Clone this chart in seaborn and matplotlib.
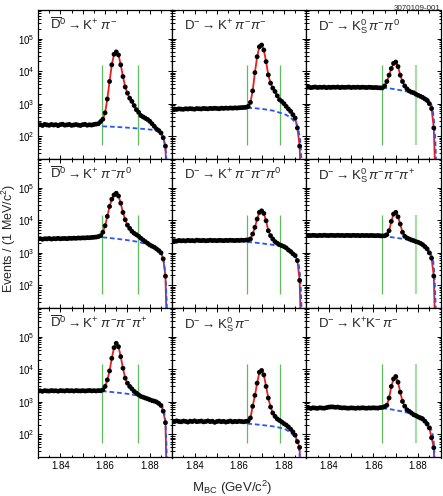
import numpy as np
import pandas as pd
import matplotlib
matplotlib.use("Agg")
import matplotlib.pyplot as plt
import seaborn as sns
from matplotlib.ticker import FixedLocator, LogLocator, FuncFormatter, NullFormatter, MultipleLocator, LogFormatterSciNotation

# ---------------- data ----------------
# bin centres, 1 MeV bins, GeV/c^2
mbc_bins = np.round(np.arange(1.830, 1.8875, 0.001), 3)

titles = [
    r"$\overline{\mathrm{D}}^0 \rightarrow \mathrm{K}^{+}\;\pi^{-}$",
    r"$\mathrm{D}^{-} \rightarrow \mathrm{K}^{+}\;\pi^{-}\pi^{-}$",
    r"$\mathrm{D}^{-} \rightarrow \mathrm{K}^0_{\mathrm{S}}\,\pi^{-}\pi^{0}$",
    r"$\overline{\mathrm{D}}^0 \rightarrow \mathrm{K}^{+}\;\pi^{-}\pi^{0}$",
    r"$\mathrm{D}^{-} \rightarrow \mathrm{K}^{+}\;\pi^{-}\pi^{-}\pi^{0}$",
    r"$\mathrm{D}^{-} \rightarrow \mathrm{K}^0_{\mathrm{S}}\,\pi^{-}\pi^{-}\pi^{+}$",
    r"$\overline{\mathrm{D}}^0 \rightarrow \mathrm{K}^{+}\;\pi^{-}\pi^{-}\pi^{+}$",
    r"$\mathrm{D}^{-} \rightarrow \mathrm{K}^0_{\mathrm{S}}\,\pi^{-}$",
    r"$\mathrm{D}^{-} \rightarrow \mathrm{K}^{+}\mathrm{K}^{-}\,\pi^{-}$",
]

counts_d0_kpi = [218, 225, 212, 230, 221, 215, 228, 219, 224, 210, 226, 232, 217, 222, 229, 214, 220, 227, 218, 212,
                 225, 230, 216, 223, 219, 228, 234,
                 240, 280, 330, 520, 1380, 4800, 15600, 33000, 39000, 31500, 15600, 6800, 3240, 2100, 1470, 1170,
                 870, 650, 540, 430, 390, 355, 325, 285, 240, 200, 166, 148, 125, 89, 49]
counts_dm_kpipi = [670, 685, 662, 690, 676, 668, 695, 681, 700, 688, 672, 705, 693, 684, 710, 698, 690, 715, 702, 720,
                   708, 695, 725, 712, 730, 718, 735, 722, 740, 730, 745, 752, 760,
                   770, 820, 1090, 2460, 9000, 27700, 56000, 63500, 44500, 19600, 7640, 4270, 3000, 2360, 1740,
                   1320, 1170, 1000, 820, 680, 575, 455, 360, 178, 49]
counts_dm_kspipi0 = [3150, 3220, 3100, 3180, 3250, 3120, 3200, 3160, 3230, 3090, 3190, 3140, 3210, 3170, 3240, 3110,
                     3200, 3150, 3180, 3230, 3120, 3190, 3160, 3210, 3140, 3200, 3170, 3120, 3190, 3150, 3100, 3140,
                     3080, 3050,
                     3050, 3500, 4800, 7500, 12000, 17300, 19000, 13800, 7500, 4800, 3500, 2850, 2450, 2250, 2150,
                     1950, 1800, 1680, 1550, 1400, 1250, 1000, 700, 178]
counts_d0_kpipi0 = [2650, 2720, 2600, 2700, 2680, 2750, 2640, 2720, 2700, 2780, 2690, 2740, 2760, 2710, 2800, 2770,
                    2820, 2790, 2850, 2830, 2880, 2860, 2920, 2900, 2960, 3000, 3050, 3150,
                    3350, 4270, 6800, 13200, 26600, 44500, 60200, 67900, 56000, 33600, 17400, 10400, 7100, 5640,
                    4580, 3970, 3600, 3220, 2800, 2470, 2200, 1960, 1740, 1600, 1480, 1320, 1170, 1000, 650, 190]
counts_dm_kpipipi0 = [2300, 2350, 2280, 2400, 2330, 2370, 2310, 2420, 2350, 2380, 2320, 2450, 2390, 2360, 2410, 2340,
                      2380, 2430, 2370, 2400, 2350, 2420, 2390, 2360, 2410, 2380, 2430, 2400, 2370, 2420, 2390, 2440,
                      2410, 2460,
                      2480, 2660, 3780, 6060, 10900, 17500, 19500, 16300, 9660, 4770, 3360, 2660, 2200, 1960, 1780,
                      1660, 1550, 1410, 1220, 1090, 930, 820, 575, 141]
counts_dm_kspipipi = [3350, 3420, 3380, 3450, 3400, 3360, 3440, 3390, 3470, 3410, 3380, 3450, 3420, 3390, 3460, 3400,
                      3430, 3370, 3440, 3410, 3380, 3450, 3400, 3420, 3360, 3430, 3390, 3410, 3370, 3420, 3380, 3350,
                      3400, 3330, 3300,
                      3350, 3600, 4770, 9250, 15500, 17500, 12800, 7650, 4270, 3220, 2860, 2660, 2480, 2360, 2200,
                      2110, 1960, 1780, 1550, 1320, 1000, 685, 192]
counts_d0_kpipipi = [2150, 2200, 2120, 2230, 2180, 2160, 2240, 2190, 2210, 2140, 2230, 2200, 2170, 2250, 2190, 2220,
                     2160, 2240, 2200, 2180, 2230, 2170, 2210, 2250, 2190, 2220, 2180, 2240, 2210,
                     2350, 3000, 4770, 9000, 22000, 46700, 63600, 50100, 24800, 10900, 5400, 3780, 3000, 2530, 2110,
                     1870, 1660, 1480, 1400, 1320, 1250, 1170, 1100, 1060, 1000, 900, 780, 520, 230]
counts_dm_kspi = [255, 248, 262, 250, 245, 258, 252, 240, 256, 249, 262, 247, 253, 258, 244, 250, 261, 248, 255, 236,
                  250, 257, 246, 253, 240, 249, 258, 244, 252, 247, 255, 250, 245, 252,
                  260, 322, 733, 1590, 3780, 8200, 9300, 6790, 3000, 1320, 700, 457, 360, 300, 270, 243, 215, 195,
                  170, 145, 120, 95, 60, 40]
counts_dm_kkpi = [640, 655, 630, 660, 648, 635, 662, 650, 640, 668, 690, 705, 700, 685, 695, 670, 655, 662, 648, 640,
                  658, 650, 636, 655, 645, 662, 650, 640, 655, 648, 660, 652, 645, 670,
                  680, 720, 790, 1320, 3000, 5100, 6060, 4060, 2000, 1040, 740, 575, 515, 457, 405, 378, 346, 320,
                  300, 256, 210, 159, 79, 39]

panel_counts = [counts_d0_kpi, counts_dm_kpipi, counts_dm_kspipi0,
                counts_d0_kpipi0, counts_dm_kpipipi0, counts_dm_kspipipi,
                counts_d0_kpipipi, counts_dm_kspi, counts_dm_kkpi]

# background (ARGUS) curve read at a few masses
bg_mass = [
    [1.8588, 1.862, 1.866, 1.870, 1.8746, 1.8785, 1.8816, 1.8840, 1.8852, 1.8862, 1.8868, 1.8872, 1.8875, 1.8877],
    [1.8636, 1.867, 1.870, 1.875, 1.8785, 1.881, 1.883, 1.8845, 1.8858, 1.8865, 1.8872, 1.8876, 1.8879, 1.8881],
    [1.864, 1.867, 1.870, 1.875, 1.879, 1.882, 1.884, 1.8855, 1.8865, 1.8872, 1.8876, 1.8879, 1.8881],
    [1.8588, 1.862, 1.865, 1.870, 1.8742, 1.878, 1.8816, 1.884, 1.8855, 1.8865, 1.8871, 1.8875, 1.8878],
    [1.8636, 1.867, 1.870, 1.875, 1.8783, 1.881, 1.8842, 1.8858, 1.8866, 1.8872, 1.8876, 1.8879],
    [1.864, 1.867, 1.870, 1.8755, 1.880, 1.8837, 1.8857, 1.8868, 1.8873, 1.8876, 1.8879],
    [1.8586, 1.862, 1.865, 1.870, 1.8742, 1.879, 1.8831, 1.8854, 1.8863, 1.8869, 1.8873, 1.8876],
    [1.8636, 1.867, 1.870, 1.875, 1.8783, 1.881, 1.8828, 1.8845, 1.8857, 1.8866, 1.8871, 1.8874],
    [1.864, 1.868, 1.8734, 1.8794, 1.8824, 1.8854, 1.8864, 1.8869, 1.8873, 1.8875],
]
bg_events = [
    [200, 196, 190, 182, 172, 163, 155, 140, 125, 85, 50, 31, 15, 3],
    [740, 720, 690, 610, 515, 450, 370, 290, 225, 150, 80, 35, 12, 3],
    [3100, 2950, 2750, 2350, 2000, 1700, 1450, 1100, 700, 250, 100, 30, 10],
    [3000, 2850, 2700, 2450, 2200, 1900, 1590, 1250, 850, 450, 150, 40, 12],
    [2150, 2050, 1950, 1750, 1580, 1400, 950, 650, 430, 200, 60, 15],
    [3250, 3080, 2900, 2530, 2110, 1500, 950, 515, 200, 70, 15],
    [2150, 2050, 1950, 1780, 1590, 1330, 1050, 760, 540, 300, 90, 20],
    [215, 205, 195, 178, 160, 140, 115, 90, 65, 40, 20, 10],
    [640, 590, 500, 400, 330, 180, 110, 70, 25, 10],
]
fit_endpoint = [1.8877, 1.8878, 1.8880, 1.8878, 1.8878, 1.8878, 1.8877, 1.8875, 1.8876]

# signal windows per column
signal_windows = [[1.8588, 1.8746], [1.8636, 1.8784], [1.8640, 1.8791]]
window_span = [55, 15000]

# ---------------- style ----------------
sns.set_theme(style="ticks")
plt.rcParams['font.family'] = ['Liberation Sans', 'DejaVu Sans']
plt.rcParams['mathtext.fontset'] = 'custom'
plt.rcParams['mathtext.rm'] = 'Liberation Sans'
plt.rcParams['mathtext.it'] = 'Liberation Sans:italic'
plt.rcParams['mathtext.bf'] = 'Liberation Sans:bold'
plt.rcParams['axes.linewidth'] = 0.9

RED = '#ee1c1c'
BLUE = '#2a55f0'
GREEN = '#5fbf5f'
GREEN_LIGHT = '#a9dca9'

fig, axes = plt.subplots(3, 3, figsize=(4.43, 4.96), dpi=100, sharex=True, sharey=True)
fig.subplots_adjust(left=38 / 443, right=440.5 / 443, top=1 - 10 / 496, bottom=1 - 457.5 / 496,
                    wspace=0, hspace=0)

for k, ax in enumerate(axes.flat):
    col = k % 3
    counts = panel_counts[k]
    ax.set_yscale('log')
    df = pd.DataFrame({'mbc': mbc_bins, 'events': counts})
    fit_df = pd.DataFrame({'mbc': list(mbc_bins) + [fit_endpoint[k]],
                           'events': list(counts) + [1.0]})
    bg_df = pd.DataFrame({'mbc': bg_mass[k], 'events': bg_events[k]})

    # signal window
    lo, hi = signal_windows[col]
    ax.vlines(lo, window_span[0], window_span[1], colors=GREEN, lw=0.9, zorder=1)
    ax.vlines(hi, window_span[0], window_span[1],
              colors=GREEN_LIGHT if col == 2 else GREEN, lw=1.6 if col == 2 else 0.9, zorder=1)

    sns.lineplot(data=fit_df, x='mbc', y='events', ax=ax, color=RED, lw=1.3,
                 estimator=None, sort=False, zorder=2)
    sns.lineplot(data=bg_df, x='mbc', y='events', ax=ax, color=BLUE, lw=1.3,
                 estimator=None, sort=False, zorder=3, linestyle=(0, (2.6, 1.6)))
    sns.scatterplot(data=df, x='mbc', y='events', ax=ax, color='black', s=12,
                    edgecolor='none', linewidth=0, zorder=4)

    ax.text(0.09, 0.865, titles[k], transform=ax.transAxes, fontsize=9.5,
            ha='left', va='baseline')
    ax.set_xlabel('')
    ax.set_ylabel('')

ax0 = axes[0, 0]
ax0.set_xlim(1.83, 1.89)
ax0.set_ylim(19.5, 7.6e5)
ax0.yaxis.set_major_locator(FixedLocator([1e2, 1e3, 1e4, 1e5]))
ax0.yaxis.set_major_formatter(LogFormatterSciNotation())
ax0.yaxis.set_minor_locator(LogLocator(base=10, subs=np.arange(2, 10), numticks=20))
ax0.yaxis.set_minor_formatter(NullFormatter())
ax0.xaxis.set_major_locator(MultipleLocator(0.01))
ax0.xaxis.set_minor_locator(MultipleLocator(0.005))


def xfmt(v, pos):
    for lab in (1.84, 1.86, 1.88):
        if abs(v - lab) < 1e-6:
            return f"{lab:.2f}"
    return ""


ax0.xaxis.set_major_formatter(FuncFormatter(xfmt))

for ax in axes.flat:
    ax.tick_params(which='both', direction='in', top=True, right=True, labelsize=7, pad=2.5,
                   width=0.7, colors='black')
    ax.tick_params(which='major', length=3.2)
    ax.tick_params(which='minor', length=1.8)
    for s in ax.spines.values():
        s.set_color('black')
        s.set_linewidth(0.9)

fig.text(0.021, 0.52, r"Events / (1 MeV/c$^2$)", rotation=90, ha='center', va='center', fontsize=9)
fig.text(0.524, 0.009, r"M$_{\mathrm{BC}}$ (GeV/c$^2$)", ha='center', va='baseline', fontsize=9.5)
fig.text(0.995, 0.99, "3070109-001", ha='right', va='top', fontsize=5.8)

fig.savefig("out.png", dpi=100)
